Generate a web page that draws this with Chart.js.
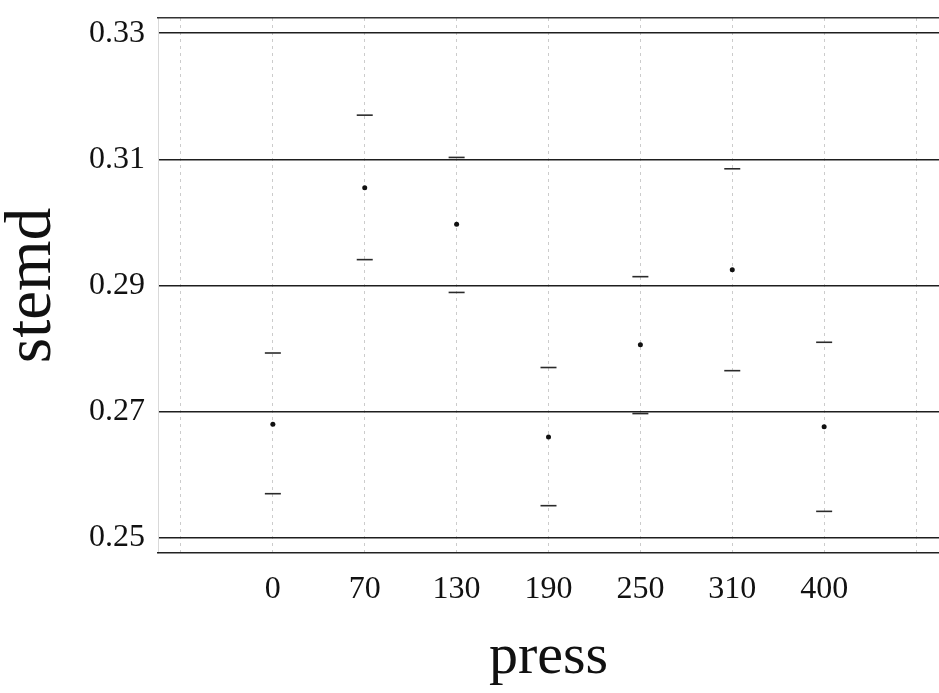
<!DOCTYPE html>
<html>
<head>
<meta charset="utf-8">
<title>stemd by press</title>
<script src="https://cdn.jsdelivr.net/npm/chart.js@4.4.0/dist/chart.umd.min.js"></script>
<style>
    html, body { margin: 0; padding: 0; background: #fff; overflow: hidden; }
    #wrap { width: 939px; height: 693px; }
    canvas { display: block; }
</style>
</head>
<body>
<div id="wrap"><canvas id="stemdChart" width="939" height="693"></canvas></div>
<script>
// press levels along the x axis
const pressLabels = ['0', '70', '130', '190', '250', '310', '400'];
// mean stemd per press level, with the upper / lower interval ends
const stemdMean  = [0.2680, 0.3055, 0.2997, 0.2660, 0.2806, 0.2925, 0.2676];
const stemdUpper = [0.2793, 0.3170, 0.3103, 0.2770, 0.2914, 0.3085, 0.2810];
const stemdLower = [0.2570, 0.2941, 0.2889, 0.2551, 0.2697, 0.2765, 0.2542];
// y axis tick values
const yTicks = [0.25, 0.27, 0.29, 0.31, 0.33];

const serif = 'Liberation Serif';

// turn a series into {x, y} points, x being the position of the press level
function toPoints(values) {
    return values.map((v, i) => ({ x: i, y: v }));
}

// drop the extra room Chart.js keeps for half tick labels
function noLabelPadding(axis) {
    axis.paddingLeft = 0;
    axis.paddingRight = 0;
    axis.paddingTop = 0;
    axis.paddingBottom = 0;
}

function buildChart() {
    const ctx = document.getElementById('stemdChart').getContext('2d');

    const capStyle = {
        showLine: false,
        pointStyle: 'line',
        pointRadius: 8,
        pointHoverRadius: 8,
        borderColor: '#2a2a2a',
        pointBorderWidth: 1.6,
        borderWidth: 1.6
    };

    const config = {
        type: 'scatter',
        data: {
            datasets: [
                Object.assign({ label: 'upper', data: toPoints(stemdUpper) }, capStyle),
                Object.assign({ label: 'lower', data: toPoints(stemdLower) }, capStyle),
                {
                    label: 'mean',
                    data: toPoints(stemdMean),
                    showLine: false,
                    pointStyle: 'circle',
                    pointRadius: 2.5,
                    backgroundColor: '#111',
                    borderColor: '#111',
                    borderWidth: 0
                }
            ]
        },
        options: {
            responsive: false,
            animation: false,
            // no extra room for the cap markers, the plot runs to the canvas edge
            layout: { autoPadding: false, padding: { top: 18, right: 0, left: 0, bottom: 0 } },
            plugins: {
                legend: { display: false },
                tooltip: { enabled: false }
            },
            scales: {
                x: {
                    type: 'linear',
                    position: 'bottom',
                    min: -1.25,
                    max: 7.25,
                    afterBuildTicks: axis => {
                        // one empty slot on each side of the press levels
                        const t = [];
                        for (let i = -1; i <= pressLabels.length; i++) t.push({ value: i });
                        axis.ticks = t;
                    },
                    afterFit: axis => {
                        axis.height = 140;
                        noLabelPadding(axis);
                    },
                    ticks: {
                        color: '#111',
                        padding: 17,
                        autoSkip: false,
                        maxRotation: 0,
                        font: { family: serif, size: 32, lineHeight: 1.2 },
                        callback: value => pressLabels[value] || ''
                    },
                    grid: {
                        drawTicks: false,
                        color: 'rgba(0, 0, 0, 0.2)',
                        lineWidth: 1
                    },
                    // dash here applies to the vertical grid lines
                    border: { display: true, color: '#222', width: 1.6, dash: [3, 4] },
                    title: {
                        display: true,
                        text: 'press',
                        color: '#111',
                        padding: { top: 0, bottom: 6 },
                        font: { family: serif, size: 58, lineHeight: 1 }
                    }
                },
                // top edge of the frame
                xTop: {
                    type: 'linear',
                    position: 'top',
                    min: -1.25,
                    max: 7.25,
                    afterFit: axis => {
                        axis.height = 0;
                        noLabelPadding(axis);
                    },
                    ticks: { display: false },
                    grid: { display: false, drawTicks: false },
                    border: { display: true, color: '#333', width: 1.4 }
                },
                y: {
                    min: 0.2476,
                    max: 0.3324,
                    afterBuildTicks: axis => {
                        axis.ticks = yTicks.map(v => ({ value: v }));
                    },
                    afterFit: axis => {
                        axis.width = 158;
                        noLabelPadding(axis);
                    },
                    ticks: {
                        color: '#111',
                        padding: 13,
                        font: { family: serif, size: 32, lineHeight: 1.2 },
                        callback: value => value.toFixed(2)
                    },
                    grid: {
                        drawTicks: false,
                        color: '#1e1e1e',
                        lineWidth: 1.6
                    },
                    border: { display: true, color: 'rgba(0, 0, 0, 0.15)', width: 1 },
                    title: {
                        display: true,
                        text: 'stemd',
                        color: '#111',
                        padding: { top: 0, bottom: 0 },
                        font: { family: serif, size: 65, lineHeight: 1 }
                    }
                }
            }
        }
    };

    return new Chart(ctx, config);
}

const stemdChart = buildChart();
</script>
</body>
</html>
